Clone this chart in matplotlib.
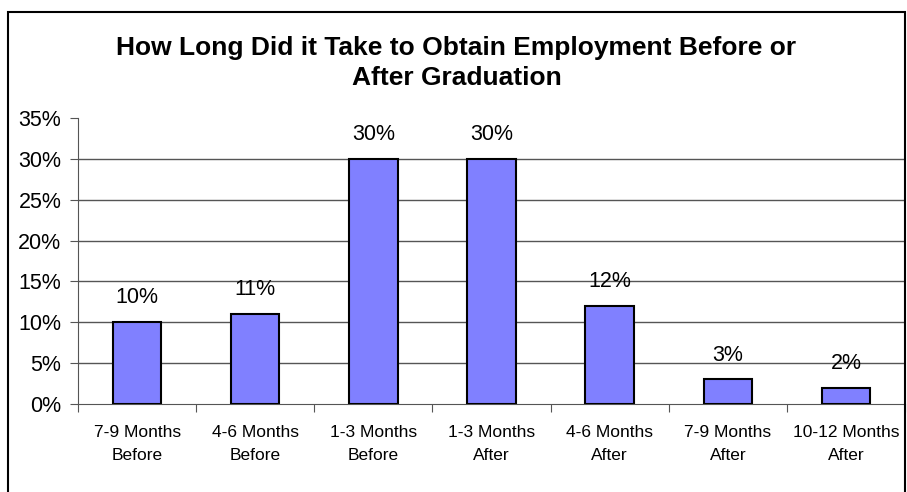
import matplotlib.pyplot as plt
from matplotlib.patches import Rectangle

categories = ['7-9 Months\nBefore', '4-6 Months\nBefore', '1-3 Months\nBefore',
              '1-3 Months\nAfter', '4-6 Months\nAfter', '7-9 Months\nAfter',
              '10-12 Months\nAfter']
values = [10, 11, 30, 30, 12, 3, 2]
yticks = [0, 5, 10, 15, 20, 25, 30, 35]
title = 'How Long Did it Take to Obtain Employment Before or\nAfter Graduation'

plt.rcParams['font.family'] = ['Liberation Sans', 'DejaVu Sans']

W, H = 907, 492
fig = plt.figure(figsize=(W / 100, H / 100), dpi=100)
ax = fig.add_axes([78 / W, 1 - 404 / H, (905 - 78) / W, (404 - 118) / H])

x = list(range(len(values)))
ax.bar(x, values, width=0.41, color='#8080FF', edgecolor='black', linewidth=1.5, zorder=3)
for xi, v in zip(x, values):
    ax.annotate(f'{v}%', (xi, v), xytext=(0, 10), textcoords='offset points',
                ha='center', va='bottom', fontsize=15.5)

ax.set_xlim(-0.5, len(values) - 0.5)
ax.set_ylim(0, 35)
ax.set_yticks(yticks)
ax.set_yticklabels([f'{t}%' for t in yticks], fontsize=15.5)
for t in yticks[1:-1]:
    ax.axhline(t, color='#555555', linewidth=1, zorder=1)

ax.set_xticks([i - 0.5 for i in range(len(values) + 1)], minor=False)
ax.set_xticklabels([])
ax.set_xticks(x, minor=True)
ax.set_xticklabels(categories, minor=True, fontsize=12.5, linespacing=1.65)
ax.tick_params(axis='x', which='minor', length=0, pad=15)
ax.tick_params(axis='x', which='major', length=6, direction='out', color='#555555')
ax.tick_params(axis='y', length=6, direction='out', color='#555555', pad=6)

for s in ['top', 'right']:
    ax.spines[s].set_visible(False)
for s in ['left', 'bottom']:
    ax.spines[s].set_color('#555555')

fig.text(0.5 * (8 + 905) / W, 1 - 63 / H, title, ha='center', va='center',
         fontsize=19, fontweight='bold', linespacing=1.3)

frame = Rectangle((8 / W, -0.1), (905 - 8) / W, 1 - 11.5 / H + 0.1,
                  transform=fig.transFigure, fill=False, edgecolor='black',
                  linewidth=1.5, clip_on=False)
fig.patches.append(frame)

plt.savefig('out.png', dpi=100)
